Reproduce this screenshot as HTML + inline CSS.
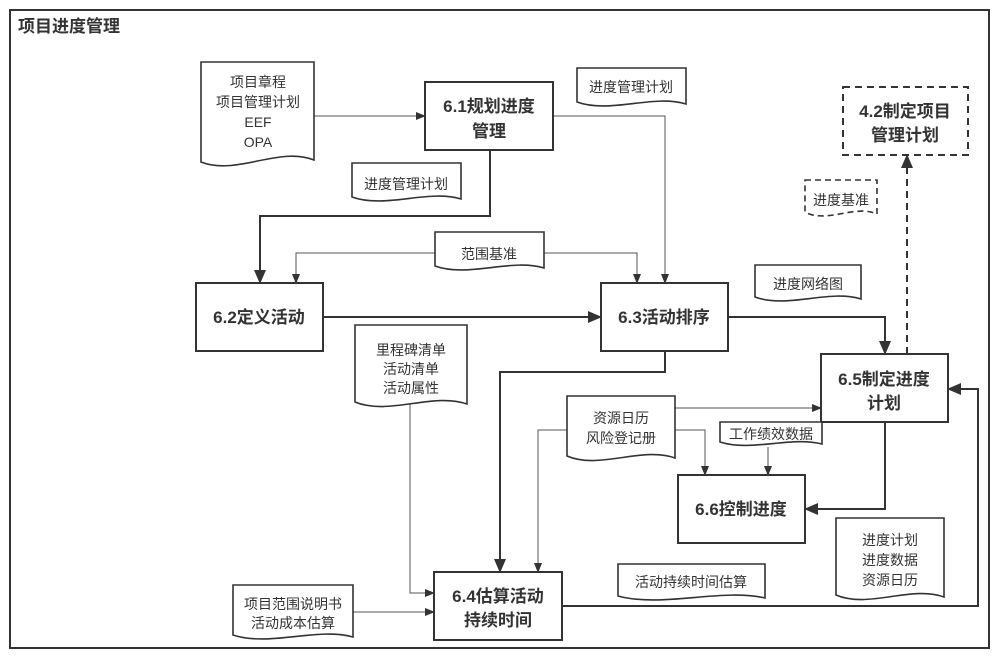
<!DOCTYPE html>
<html><head><meta charset="utf-8"><style>
html,body{margin:0;padding:0;background:#fff;width:1000px;height:660px;overflow:hidden}
svg{display:block}
text{font-family:"Liberation Sans","Noto Sans CJK SC",sans-serif;fill:#333}
.t{font-size:14px;text-anchor:middle}
.b{font-size:17px;font-weight:bold;text-anchor:middle}
.box{fill:#fff;stroke:#333;stroke-width:2}
.doc{fill:#fff;stroke:#333;stroke-width:1.6}
.ln{fill:none;stroke:#555;stroke-width:1}
.lt{fill:none;stroke:#333;stroke-width:2}
</style></head><body>
<svg width="1000" height="660" viewBox="0 0 1000 660">
<defs>
<marker id="a" markerWidth="10" markerHeight="8" refX="9" refY="4" orient="auto" markerUnits="userSpaceOnUse"><path d="M0,0 L10,4 L0,8 Z" fill="#333"/></marker>
<marker id="A" markerWidth="14" markerHeight="12" refX="13" refY="6" orient="auto" markerUnits="userSpaceOnUse"><path d="M0,0 L14,6 L0,12 Z" fill="#333"/></marker>
</defs>
<rect x="10" y="10" width="979" height="638" fill="none" stroke="#333" stroke-width="2"/>
<text x="18" y="32" style="font-size:17px;font-weight:bold">项目进度管理</text>

<path class="ln" d="M314 116 H425" marker-end="url(#a)"/>
<path class="ln" d="M553 116 H665 V283" marker-end="url(#a)"/>
<path class="lt" d="M490 150 V216 H260 V283" marker-end="url(#A)"/>
<path class="ln" d="M435 253 H296 V283" marker-end="url(#a)"/>
<path class="ln" d="M544 253 H637 V283" marker-end="url(#a)"/>
<path class="lt" d="M323 317 H601" marker-end="url(#A)"/>
<path class="lt" d="M728 317 H885 V354" marker-end="url(#A)"/>
<path class="lt" d="M665 351 V372 H500 V572" marker-end="url(#A)"/>
<path class="ln" d="M410 402 V593 H434" marker-end="url(#a)"/>
<path class="ln" d="M675 408 H821" marker-end="url(#a)"/>
<path class="ln" d="M675 430 H705 V475" marker-end="url(#a)"/>
<path class="ln" d="M567 430 H538 V572" marker-end="url(#a)"/>
<path class="ln" d="M768 447 V475" marker-end="url(#a)"/>
<path class="lt" d="M885 422 V509 H805" marker-end="url(#A)"/>
<path class="lt" d="M562 606 H978 V389 H948" marker-end="url(#A)"/>
<path class="ln" d="M353 612 H434" marker-end="url(#a)"/>
<path d="M907 354 V155" fill="none" stroke="#333" stroke-width="2" stroke-dasharray="7,5" marker-end="url(#A)"/>

<rect class="box" x="425" y="82" width="128" height="68"/>
<text class="b" x="489" y="112">6.1规划进度</text><text class="b" x="489" y="137">管理</text>
<rect class="box" x="196" y="283" width="127" height="68"/>
<text class="b" x="259" y="323">6.2定义活动</text>
<rect class="box" x="601" y="283" width="127" height="68"/>
<text class="b" x="664" y="323">6.3活动排序</text>
<rect x="843" y="87" width="125" height="68" fill="#fff" stroke="#333" stroke-width="2" stroke-dasharray="7,5"/>
<text class="b" x="905" y="117">4.2制定项目</text><text class="b" x="905" y="141">管理计划</text>
<rect class="box" x="821" y="354" width="127" height="68"/>
<text class="b" x="884" y="385">6.5制定进度</text><text class="b" x="884" y="409">计划</text>
<rect class="box" x="678" y="475" width="127" height="68"/>
<text class="b" x="741" y="515">6.6控制进度</text>
<rect class="box" x="434" y="572" width="128" height="68"/>
<text class="b" x="498" y="602">6.4估算活动</text><text class="b" x="498" y="626">持续时间</text>

<path class="doc" d="M201 62 H314 V160 C279 146 236 176 201 162 Z"/>
<text class="t" x="258" y="87">项目章程</text><text class="t" x="258" y="107">项目管理计划</text><text class="t" x="258" y="127">EEF</text><text class="t" x="258" y="147">OPA</text>

<path class="doc" d="M577 68 H686 V104 C653 94 610 114 577 102 Z"/>
<text class="t" x="631" y="92">进度管理计划</text>

<path class="doc" d="M352 163 H461 V199 C428 189 385 209 352 197 Z"/>
<text class="t" x="406" y="189">进度管理计划</text>

<path class="doc" d="M435 232 H544 V268 C511 258 468 278 435 266 Z"/>
<text class="t" x="489" y="259">范围基准</text>

<path class="doc" d="M355 325 H467 V404 C433 392 389 416 355 402 Z"/>
<text class="t" x="411" y="355">里程碑清单</text><text class="t" x="411" y="374">活动清单</text><text class="t" x="411" y="393">活动属性</text>

<path class="doc" d="M755 265 H861 V299 C829 289 787 309 755 297 Z"/>
<text class="t" x="808" y="289">进度网络图</text>

<path d="M805 180 H877 V214 C855 204 827 224 805 212 Z" fill="#fff" stroke="#333" stroke-width="1.6" stroke-dasharray="6,4"/>
<text class="t" x="841" y="205">进度基准</text>

<path class="doc" d="M567 396 H675 V458 C643 446 599 470 567 456 Z"/>
<text class="t" x="621" y="423">资源日历</text><text class="t" x="621" y="443">风险登记册</text>

<path class="doc" d="M720 422 H822 V444 C791 436 751 452 720 442 Z"/>
<text class="t" x="771" y="439">工作绩效数据</text>

<path class="doc" d="M836 518 H944 V597 C912 585 868 609 836 595 Z"/>
<text class="t" x="890" y="545">进度计划</text><text class="t" x="890" y="565">进度数据</text><text class="t" x="890" y="585">资源日历</text>

<path class="doc" d="M618 564 H765 V598 C721 588 662 608 618 596 Z"/>
<text class="t" x="691" y="587">活动持续时间估算</text>

<path class="doc" d="M233 585 H353 V637 C317 627 269 647 233 635 Z"/>
<text class="t" x="293" y="609">项目范围说明书</text><text class="t" x="293" y="628">活动成本估算</text>
</svg>
</body></html>
